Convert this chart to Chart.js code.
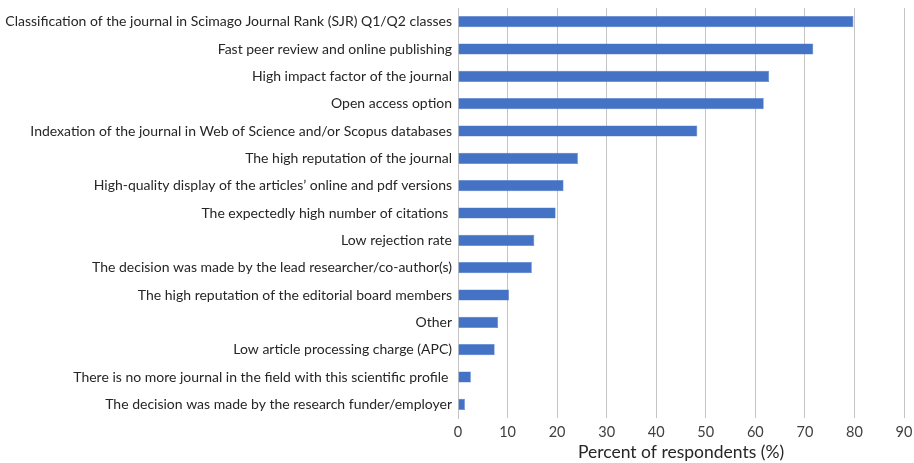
<!DOCTYPE html>
<html>
<head>
<meta charset="utf-8">
<script src="https://cdn.jsdelivr.net/npm/chart.js@4"></script>
<style>
  html, body { margin: 0; padding: 0; background: #ffffff; }
  #wrap { width: 914px; height: 463px; }
</style>
</head>
<body>
<div id="wrap"><canvas id="c" width="914" height="463"></canvas></div>
<script>
// Reasons for choosing a journal, share of respondents
const reasons = [
  "Classification of the journal in Scimago Journal Rank (SJR) Q1/Q2 classes",
  "Fast peer review and online publishing",
  "High impact factor of the journal",
  "Open access option",
  "Indexation of the journal in Web of Science and/or Scopus databases",
  "The high reputation of the journal",
  "High-quality display of the articles\u2019 online and pdf versions",
  "The expectedly high number of citations ",
  "Low rejection rate",
  "The decision was made by the lead researcher/co-author(s)",
  "The high reputation of the editorial board members",
  "Other",
  "Low article processing charge (APC)",
  "There is no more journal in the field with this scientific profile ",
  "The decision was made by the research funder/employer"
];
const percents = [79.8, 71.7, 62.8, 61.7, 48.3, 24.2, 21.3, 19.7, 15.4, 14.9, 10.3, 8.1, 7.4, 2.6, 1.4];
const xTicks = [0, 10, 20, 30, 40, 50, 60, 70, 80, 90];
const xTitle = "Percent of respondents (%)";

const FONT = "Lato, 'Open Sans', sans-serif";

new Chart(document.getElementById('c'), {
  type: 'bar',
  data: {
    labels: reasons,
    datasets: [{
      data: percents,
      backgroundColor: '#4472C4',
      borderColor: '#5a84cf',
      borderWidth: 0.6,
      barPercentage: 0.41,
      categoryPercentage: 1.0
    }]
  },
  options: {
    indexAxis: 'y',
    responsive: false,
    animation: false,
    layout: { padding: { top: 8, right: 0, left: 0, bottom: 0 } },
    plugins: { legend: { display: false }, tooltip: { enabled: false } },
    scales: {
      x: {
        min: 0,
        max: 90,
        afterBuildTicks: (scale) => { scale.ticks = xTicks.map(v => ({ value: v })); },
        afterFit: (scale) => {
          scale.height = 45;
          scale.paddingLeft = 0;
          scale.paddingRight = 10;
        },
        grid: { color: '#c4c4c4', lineWidth: 1, drawTicks: false },
        border: { display: false },
        ticks: { color: '#404040', padding: 6, font: { family: FONT, size: 14.5 } },
        title: {
          display: true,
          text: xTitle,
          color: '#262626',
          padding: { top: 1, bottom: 0 },
          font: { family: FONT, size: 17.5 }
        }
      },
      y: {
        afterFit: (scale) => {
          scale.width = 458;
          scale.paddingTop = 0;
          scale.paddingBottom = 0;
        },
        grid: { display: false, drawTicks: false },
        border: { display: true, color: '#c4c4c4', width: 1 },
        ticks: {
          autoSkip: false,
          color: '#262626',
          padding: 6,
          font: { family: FONT, size: 14 }
        }
      }
    }
  }
});
</script>
</body>
</html>
